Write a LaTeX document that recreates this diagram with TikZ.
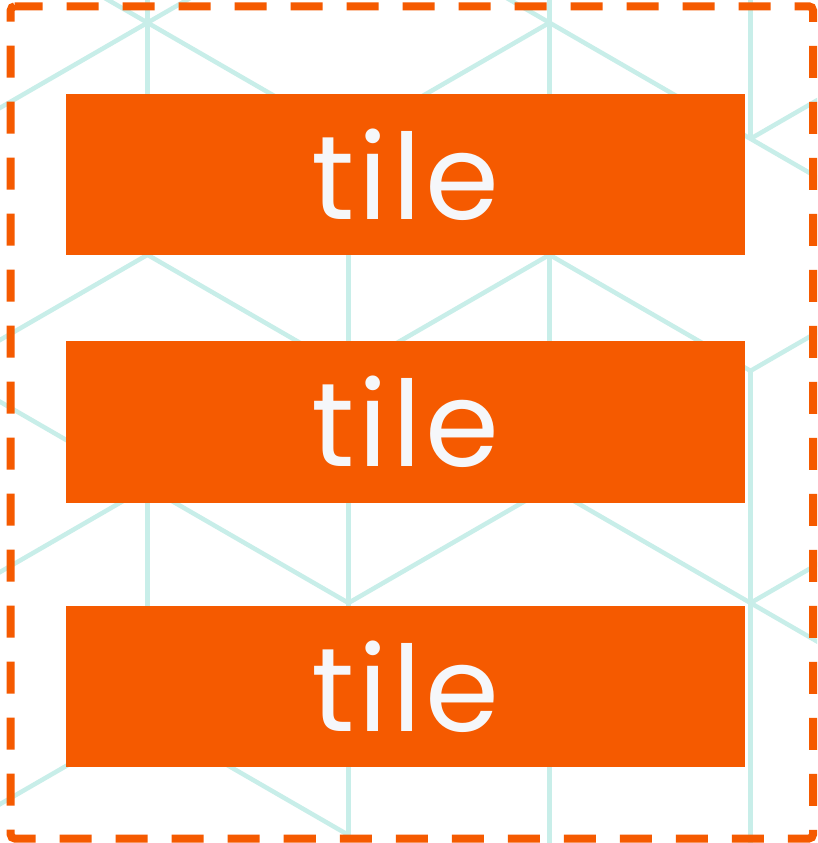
\documentclass[tikz,border=0pt]{standalone}
\usepackage{xcolor}
\usepackage{fontspec}
\setmainfont{Poppins}
\newfontfamily\tilefont{Poppins}[LetterSpace=3.5]
\usepackage{tikz}

\definecolor{tileorange}{RGB}{245,90,0}
\definecolor{hexteal}{RGB}{200,238,233}
\definecolor{tiletext}{RGB}{245,247,250}

\begin{document}
\begin{tikzpicture}[x=1pt,y=-1pt,
  hexline/.style={draw=hexteal,line width=4.5pt},
  tilebox/.style={fill=tileorange,text=tiletext,inner sep=0pt,minimum width=679pt,
    font=\tilefont\fontsize{119}{119}\selectfont}]
\useasboundingbox (0,0) rectangle (817,843);
\fill[white] (0,0) rectangle (817,843);
% background lattice
\begin{scope}
\clip (0,0) rectangle (817,843);
\begin{scope}[shift={(147.5,22.7)},x=201pt,y=-116.05pt]
% verticals
\draw[hexline] (0,-2)--(0,2) (0,4)--(0,6);
\draw[hexline] (1,1)--(1,7);
\draw[hexline] (2,-2)--(2,4) (2,6)--(2,8);
\draw[hexline] (3,-1)--(3,1) (3,3)--(3,9);
% down-right
\draw[hexline] (-1,-1)--(1,1) (-1,3)--(1,5) (0,2)--(1,3) (0,6)--(1,7);
\draw[hexline] (1,-1)--(4,2) (2,2)--(3,3) (2,4)--(4,6);
% up-right
\draw[hexline] (-1,1)--(1,-1) (-1,3)--(0,2) (-1,5)--(0,4) (-1,7)--(0,6);
\draw[hexline] (1,1)--(2,0) (1,3)--(2,2) (1,5)--(2,4);
\draw[hexline] (3,1)--(4,0) (3,3)--(4,2) (3,5)--(4,4);
\end{scope}
\end{scope}
% tiles
\node[tilebox,minimum height=161pt] (top) at (405.5,174.5) {tile};
\node[tilebox,minimum height=162pt] (mid) at (405.5,422) {tile};
\node[tilebox,minimum height=161pt] (bot) at (405.5,686.5) {tile};
% dashed frame
\draw[tileorange,line width=8pt,dash pattern=on 32pt off 24pt,dash phase=4pt,rounded corners=4pt]
  (10.7,6.3)--(813,6.3)--(813,838.5)--(10.7,838.5)--cycle;
\end{tikzpicture}
\end{document}
